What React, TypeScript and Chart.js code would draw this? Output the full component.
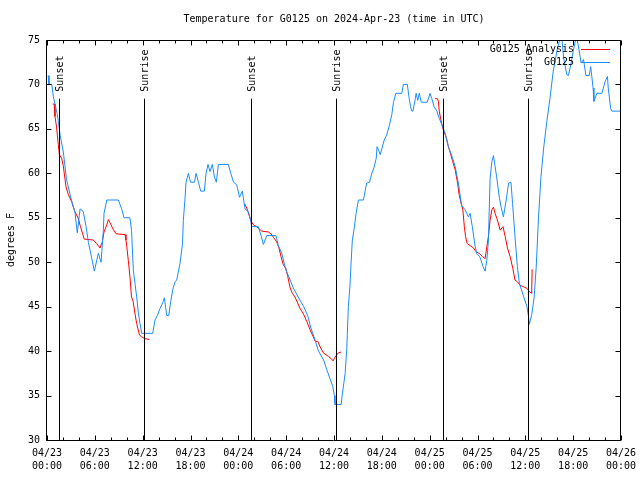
import React, { useEffect, useRef } from "react";
import { Chart, registerables } from "chart.js";

Chart.register(...registerables);

const chartTitle = "Temperature for G0125 on 2024-Apr-23 (time in UTC)";
const yAxisTitle = "degrees F";
const stationName = "G0125";
const analysisName = "G0125 Analysis";
const monthLabel = "04";
const firstDay = 23;
const xMaxHours = 72;
const xMajorStep = 6;
const xMinorStep = 2;
const yMin = 30;
const yMax = 75;
const yStep = 5;

// Sun events (hours since 04/23 00:00 UTC)
const sunEventHours = [1.55, 12.2, 25.63, 36.2, 49.7, 60.3];
const sunEventNames = ["Sunset", "Sunrise", "Sunset", "Sunrise", "Sunset", "Sunrise"];
const sunLineTopTemp = 68.4;

// Station observations (blue)
const stationHours = [
  0.15, 0.25, 0.6, 0.8, 1.3, 1.65, 2.05, 2.45, 2.9, 3.3, 3.5, 3.8, 4.15, 4.55, 4.9, 5.2, 5.6, 5.94, 6.44, 6.78,
  7.07, 7.15, 7.5, 8.95, 9.37, 9.66, 10.4, 10.6, 10.83, 11.04, 11.25, 11.46, 11.67, 11.88, 13.26, 13.55, 13.84,
  14.18, 14.6, 14.72, 15.02, 15.27, 15.52, 15.77, 16.06, 16.27, 16.69, 17.0, 17.1, 17.3, 17.44, 17.73, 18.0,
  18.5, 18.7, 19.0, 19.28, 19.74, 19.95, 20.2, 20.45, 20.74, 21.0, 21.24, 21.5, 22.75, 23.05, 23.4, 23.8,
  24.15, 24.5, 24.84, 25.26, 25.55, 25.68, 26.5, 26.85, 27.14, 27.57, 28.73, 29.0, 29.45, 29.8, 30.07, 30.5,
  30.9, 31.5, 32.2, 32.7, 33.1, 33.6, 34.05, 34.7, 35.1, 35.5, 35.85, 36.05, 36.12, 36.9, 37.05, 37.4, 37.6,
  37.8, 38.0, 38.14, 38.3, 38.5, 38.77, 39.06, 39.7, 39.9, 40.1, 40.45, 40.74, 41.0, 41.3, 41.4, 41.6, 41.8,
  42.3, 42.6, 42.95, 43.25, 43.46, 43.75, 44.5, 44.7, 45.2, 45.4, 45.6, 45.75, 45.9, 46.2, 46.3, 46.5, 46.7,
  46.95, 47.7, 48.05, 48.27, 48.55, 48.9, 49.2, 49.65, 49.94, 50.35, 50.8, 51.2, 51.6, 52.0, 52.45, 52.86,
  53.07, 53.35, 53.7, 53.9, 54.3, 54.7, 54.96, 55.17, 55.37, 55.58, 55.8, 56.0, 56.2, 56.4, 56.75, 56.96,
  57.25, 57.6, 57.9, 58.2, 58.4, 58.7, 59.0, 59.26, 59.8, 60.2, 60.4, 60.5, 60.8, 61.1, 61.36, 61.65, 61.95,
  62.3, 62.7, 63.1, 63.5, 63.95, 64.3, 64.6, 64.8, 65.2, 65.4, 65.7, 66.0, 66.3, 66.5, 66.7, 67.0, 67.3, 67.6,
  68.0, 68.2, 68.5, 68.6, 68.97, 69.6, 70.0, 70.3, 70.4, 70.7, 70.85, 72.0,
];
const stationTemps = [
  71, 70, 70, 68.6, 66.6, 64.3, 62.4, 59.3, 57.6, 56.2, 55.7, 53.3, 56, 55.7, 54, 52.2, 50.5, 49, 51, 50,
  53.6, 55.5, 57, 57, 56, 55, 55, 53.6, 49.1, 47.6, 46.1, 44.3, 43.1, 42, 42, 43.5, 44,
  44.8, 45.6, 46, 44, 44, 45.6, 46.9, 47.8, 48, 49.9, 52.1, 54.7, 57, 59, 60, 59,
  59, 60, 59, 58, 58, 60, 61, 60.2, 61, 59.6, 59, 61, 61, 60, 59, 58.7,
  57.3, 58, 56, 55.7, 54.7, 54, 54, 53, 52, 53, 53, 51.9, 51, 49.7, 48.9, 48,
  47.1, 46.1, 45, 44, 42.6, 41.3, 40, 39, 37.9, 36.9, 36, 35, 34, 34, 35.2, 37.5, 40.3,
  45, 47.3, 49.9, 52.5, 53.6, 55.5, 57, 57, 58, 58.9, 59, 60, 60.6, 61.7, 63, 62.6, 62.1,
  63.75, 64.3, 65.4, 66.6, 68, 69, 69, 70, 70, 68.6, 67.5, 67, 67, 68.4, 69, 68.2, 69,
  68, 68, 69, 68.4, 67.5, 67, 66.2, 65.2, 64.5, 63, 61.9, 60.75, 58.9, 56.4, 55.9, 55.1,
  55.5, 54, 51.8, 51, 50.6, 49.5, 49, 50.2, 52.5, 59.4, 61.3, 62, 60.8, 59.6, 57.2, 56.2,
  55.1, 57, 58.9, 59, 56.6, 52.9, 49.5, 47.6, 46.1, 45, 43.9, 43, 44.1, 46, 49.4, 55, 59.5,
  62.85, 65.85, 68.5, 71.5, 73.7, 75, 75, 73, 71.1, 71, 72.2, 73.7, 75, 75, 74.1, 72.4, 72.8, 71,
  71, 72, 69.6, 68.1, 69, 69, 70.3, 70.9, 69.6, 67.3, 67, 67,
];

// Analysis (red), three separate runs
const analysisHoursA = [
  0.71, 0.9, 1.0, 1.2, 1.42, 1.55, 1.84, 2.05, 2.38, 2.68, 3.1, 3.5, 3.93, 4.2, 4.47, 4.68, 5.8, 6.23, 6.65,
  6.94, 7.15, 7.5, 7.7, 8.03, 8.3, 8.66, 9.8, 9.9, 10.0, 10.2, 10.4, 10.6, 10.8, 11.04, 11.25, 11.6, 11.88,
  12.3, 12.84,
];
const analysisTempsA = [
  67.8, 67.8, 66.4, 65.2, 63.2, 62.1, 61.7, 60.8, 58.5, 57.6, 56.8, 55.7, 54.9, 54, 53.2, 52.6, 52.5, 52.1, 51.6,
  52.3, 53.4, 54.2, 54.8, 54.2, 53.7, 53.2, 53.1, 52.5, 51.8, 50.2, 48.4, 46.1, 45.6, 44.2, 43.1, 41.8, 41.6,
  41.4, 41.3,
];
const analysisHoursB = [
  24.76, 25.06, 25.35, 25.6, 25.9, 26.3, 26.94, 27.77, 28.1, 28.4, 28.8, 29.1, 29.36, 29.65, 29.95, 30.2, 30.5,
  30.78, 31.1, 31.45, 31.74, 32.16, 32.6, 33.0, 33.4, 33.63, 33.97, 34.25, 34.67, 35.3, 35.7, 35.9, 36.1, 36.55,
  36.9,
];
const analysisTempsB = [
  56.6, 56.1, 55.3, 54.6, 54.2, 54.0, 53.5, 53.4, 53.2, 52.8, 52.3, 51.6, 50.6, 49.7, 49.3, 48.4, 47.1,
  46.5, 46.1, 45.4, 44.8, 44.2, 43.3, 42.4, 41.6, 41.1, 41.1, 40.5, 39.8, 39.4, 39.1, 38.9, 39.3, 39.8,
  39.9,
];
const analysisHoursC = [
  48.68, 48.97, 49.1, 49.2, 49.5, 49.7, 50.06, 50.35, 50.65, 50.9, 51.2, 51.5, 51.7, 51.9, 52.16, 52.35, 52.5,
  52.7, 53.1, 53.5, 53.8, 54.2, 54.67, 54.96, 55.17, 55.37, 55.58, 55.8, 56.0, 56.2, 56.5, 56.84, 57.2, 57.47,
  57.76, 58.1, 58.43, 58.7, 59.0, 59.35, 59.76, 60.2, 60.5, 60.8, 60.85,
];
const analysisTempsC = [
  68.4, 68.4, 68.1, 67, 65.6, 64.9, 64.1, 63, 62.1, 61.3, 60.4, 58.9, 57.6, 56.8, 55.9, 54, 52.9,
  52.1, 51.85, 51.6, 51.2, 51.0, 50.6, 50.4, 51.75, 52.9, 54.75, 55.9, 56.2, 55.5, 54.75, 53.6, 54.0, 52.9,
  51.6, 50.6, 49.3, 48.0, 47.8, 47.4, 47.25, 47.06, 46.7, 46.5, 49.2,
];

const RED = "#ff0000";
const BLUE = "#1a8cff";
const FONT_FAMILY = "'DejaVu Sans Mono', 'Liberation Mono', monospace";
const FONT = `10px ${FONT_FAMILY}`;

function toPoints(hours: number[], temps: number[]) {
  return hours.map((h, i) => ({ x: h, y: temps[i] }));
}

function hourLabel(value: number): string[] {
  const day = firstDay + Math.floor(value / 24);
  const hh = value % 24;
  const pad = (n: number) => (n < 10 ? "0" + n : "" + n);
  return [`${monthLabel}/${pad(day)}`, `${pad(hh)}:00`];
}

const overlayPlugin = {
  id: "gnuplotOverlay",
  afterDraw(chart: any) {
    const { ctx, chartArea: a, scales } = chart;
    const xs = scales.x;
    const ys = scales.y;
    const snap = (v: number) => Math.round(v) + 0.5;
    ctx.save();
    ctx.strokeStyle = "#000";
    ctx.fillStyle = "#000";
    ctx.lineWidth = 1;

    // frame
    const L = snap(a.left - 1);
    const R = snap(a.right - 1);
    const T = snap(a.top);
    const B = snap(a.bottom);
    ctx.beginPath();
    ctx.rect(L, T, R - L, B - T);
    ctx.stroke();

    // x ticks (inward, bottom and top)
    ctx.beginPath();
    for (let h = 0; h <= xMaxHours; h += xMinorStep) {
      const px = snap(xs.getPixelForValue(h));
      const len = h % xMajorStep === 0 ? 5 : 3;
      ctx.moveTo(px, B);
      ctx.lineTo(px, B - len);
      ctx.moveTo(px, T);
      ctx.lineTo(px, T + len);
    }
    // y ticks (inward, left and right)
    for (let v = yMin; v <= yMax; v += yStep) {
      const py = snap(ys.getPixelForValue(v));
      ctx.moveTo(L, py);
      ctx.lineTo(L + 5, py);
      ctx.moveTo(R, py);
      ctx.lineTo(R - 5, py);
    }
    ctx.stroke();

    // sun event lines and labels
    ctx.font = FONT;
    const lineTop = ys.getPixelForValue(sunLineTopTemp);
    sunEventHours.forEach((h, i) => {
      const px = snap(xs.getPixelForValue(h));
      ctx.beginPath();
      ctx.moveTo(px, lineTop);
      ctx.lineTo(px, B);
      ctx.stroke();
      ctx.save();
      ctx.translate(px + 0.5, lineTop - 7);
      ctx.rotate(-Math.PI / 2);
      ctx.textAlign = "left";
      ctx.textBaseline = "middle";
      ctx.fillText(sunEventNames[i], 0, 0);
      ctx.restore();
    });

    // title
    ctx.textAlign = "center";
    ctx.textBaseline = "middle";
    ctx.fillText(chartTitle, (a.left + a.right) / 2, 19);

    // y axis title
    ctx.save();
    ctx.translate(11, (a.top + a.bottom) / 2);
    ctx.rotate(-Math.PI / 2);
    ctx.fillText(yAxisTitle, 0, 0);
    ctx.restore();

    // legend
    const entries = [
      { label: analysisName, color: RED },
      { label: stationName, color: BLUE },
    ];
    entries.forEach((e, i) => {
      const ty = a.top + 9.5 + i * 13;
      ctx.fillStyle = "#000";
      ctx.textAlign = "right";
      ctx.textBaseline = "middle";
      ctx.fillText(e.label, a.right - 47, ty);
      ctx.strokeStyle = e.color;
      ctx.beginPath();
      ctx.moveTo(a.right - 40, snap(ty - 0.5));
      ctx.lineTo(a.right - 11, snap(ty - 0.5));
      ctx.stroke();
    });
    ctx.restore();
  },
};

export default function App() {
  const canvasRef = useRef<HTMLCanvasElement | null>(null);

  useEffect(() => {
    const canvas = canvasRef.current;
    if (!canvas) return;
    const analysisData = [
      ...toPoints(analysisHoursA, analysisTempsA),
      { x: (analysisHoursA[analysisHoursA.length - 1] + analysisHoursB[0]) / 2, y: null },
      ...toPoints(analysisHoursB, analysisTempsB),
      { x: (analysisHoursB[analysisHoursB.length - 1] + analysisHoursC[0]) / 2, y: null },
      ...toPoints(analysisHoursC, analysisTempsC),
    ];
    const chart = new Chart(canvas, {
      type: "line",
      data: {
        datasets: [
          {
            label: stationName,
            data: toPoints(stationHours, stationTemps),
            borderColor: BLUE,
            backgroundColor: BLUE,
            borderWidth: 1,
            pointRadius: 0,
            tension: 0,
            fill: false,
          },
          {
            label: analysisName,
            data: analysisData as any,
            borderColor: RED,
            backgroundColor: RED,
            borderWidth: 1,
            pointRadius: 0,
            tension: 0,
            fill: false,
            spanGaps: false,
          },
        ],
      },
      options: {
        animation: false,
        responsive: false,
        maintainAspectRatio: false,
        devicePixelRatio: 1,
        parsing: false as any,
        layout: { padding: { top: 40, right: 19, left: 0, bottom: 0 } },
        plugins: {
          legend: { display: false },
          title: { display: false },
          tooltip: { enabled: false },
        },
        scales: {
          x: {
            type: "linear",
            min: 0,
            max: xMaxHours,
            grid: { display: false, drawTicks: false },
            border: { display: false },
            afterFit: (s: any) => {
              s.height = 40;
              s.paddingLeft = 0;
              s.paddingRight = 0;
            },
            ticks: {
              stepSize: xMajorStep,
              autoSkip: false,
              maxRotation: 0,
              minRotation: 0,
              padding: 7,
              color: "#000",
              font: { family: FONT_FAMILY, size: 10, lineHeight: 1.3 },
              callback: (v: any) => hourLabel(Number(v)),
            },
          },
          y: {
            type: "linear",
            min: yMin,
            max: yMax,
            grid: { display: false, drawTicks: false },
            border: { display: false },
            afterFit: (s: any) => {
              s.width = 47;
              s.paddingTop = 0;
              s.paddingBottom = 0;
            },
            ticks: {
              stepSize: yStep,
              padding: 7,
              color: "#000",
              font: { family: FONT_FAMILY, size: 10 },
            },
          },
        },
      },
      plugins: [overlayPlugin],
    });
    return () => chart.destroy();
  }, []);

  return (
    <div style={{ position: "fixed", left: 0, top: 0, width: 640, height: 480, background: "#fff" }}>
      <canvas ref={canvasRef} width={640} height={480} style={{ width: 640, height: 480, display: "block" }} />
    </div>
  );
}
